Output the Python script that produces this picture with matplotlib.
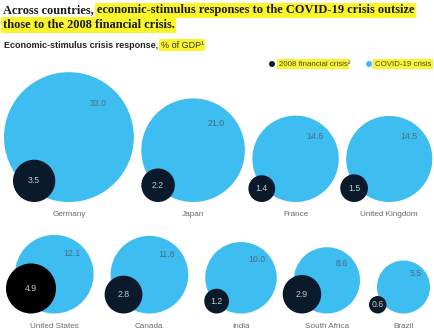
import matplotlib.pyplot as plt
from matplotlib.patches import Circle

# stimulus as % of GDP
countries = ['Germany', 'Japan', 'France', 'United Kingdom',
             'United States', 'Canada', 'India', 'South Africa', 'Brazil']
covid = [33.0, 21.0, 14.6, 14.5, 12.1, 11.8, 10.0, 8.6, 5.5]
gfc = [3.5, 2.2, 1.4, 1.5, 4.9, 2.8, 1.2, 2.9, 0.6]
row_of = [0, 0, 0, 0, 1, 1, 1, 1, 1]

BLUE = '#3dbdf0'
NAVY = '#0b1a2a'
YELLOW = '#fbf62c'

# layout (pixels)
k = 11.3                      # radius per sqrt(% of GDP)
row_start = [4, 15]
row_gap = [7.5, 17]
row_base = [202, 313.5]
label_y = [214.5, 326]
dark_shift = [9, 0, -4, -6, -9, -6, -1, -11, -8]
dark_fill = [NAVY, NAVY, NAVY, NAVY, '#000000', NAVY, NAVY, NAVY, NAVY]

fig = plt.figure(figsize=(4.34, 3.34), dpi=100)
ax = fig.add_axes([0, 0, 1, 1])
ax.set_xlim(0, 434)
ax.set_ylim(334, 0)
ax.axis('off')

cursor = list(row_start)
for i, name in enumerate(countries):
    r = row_of[i]
    rb = k * covid[i] ** 0.5
    left = cursor[r]
    cx, cy = left + rb, row_base[r] - rb
    cursor[r] = left + 2 * rb + row_gap[r]
    ax.add_patch(Circle((cx, cy), rb, color=BLUE, lw=0, zorder=1))
    ax.text(cx + 0.45 * rb, cy - 0.52 * rb, f'{covid[i]:.1f}', fontsize=6.3,
            family='Liberation Sans', color='#4d6c82', ha='center', va='center')
    rd = k * gfc[i] ** 0.5
    dx = left + dark_shift[i] + rd
    dy = row_base[r] - rd
    ax.add_patch(Circle((dx, dy), rd, color=dark_fill[i], lw=0, zorder=2))
    ax.text(dx, dy, f'{gfc[i]:.1f}', fontsize=6.3, family='Liberation Sans',
            color='#c4c8cc', ha='center', va='center', zorder=3)
    ax.text(cx, label_y[r], name, fontsize=5.9, family='Liberation Sans',
            color='#6a6a6a', ha='center', va='center')

renderer = fig.canvas.get_renderer()


def pieces(x, y, parts, **kw):
    # write text pieces one after another, some with a yellow marker
    for s, marked in parts:
        opts = dict(kw)
        if marked:
            opts['bbox'] = dict(facecolor=YELLOW, edgecolor='none', pad=1.2)
        t = ax.text(x, y, s, va='center', ha='left', **opts)
        x = 434 * t.get_window_extent(renderer).x1 / fig.bbox.width


title_kw = dict(fontsize=8.95, family='Liberation Serif', weight='bold', color='#1a1a1a')
pieces(3, 10.5, [('Across countries, ', False),
                 ('economic-stimulus responses to the COVID-19 crisis outsize', True)],
       **title_kw)
pieces(3, 25, [('those to the 2008 financial crisis.', True)], **title_kw)

sub_kw = dict(fontsize=6.5, family='Liberation Sans', weight='bold', color='#222222')
pieces(4, 45, [('Economic-stimulus crisis response, ', False)], **sub_kw)
t = ax.texts[-1]
x_end = 434 * t.get_window_extent(renderer).x1 / fig.bbox.width
ax.text(x_end, 45, '% of GDP\u00b9', fontsize=6.5, family='Liberation Sans',
        color='#333333', va='center', ha='left',
        bbox=dict(facecolor=YELLOW, edgecolor='none', pad=1.2))

# legend
leg_kw = dict(fontsize=5.7, family='Liberation Sans', color='#444444')
ax.add_patch(Circle((272, 64), 3, color=NAVY, lw=0))
pieces(279, 64, [('2008 financial crisis', True), ('\u00b2', False)], **leg_kw)
ax.add_patch(Circle((369, 64), 3, color=BLUE, lw=0))
pieces(375, 64, [('COVID-19 crisis', True)], **leg_kw)

fig.savefig('out.png', dpi=100)
